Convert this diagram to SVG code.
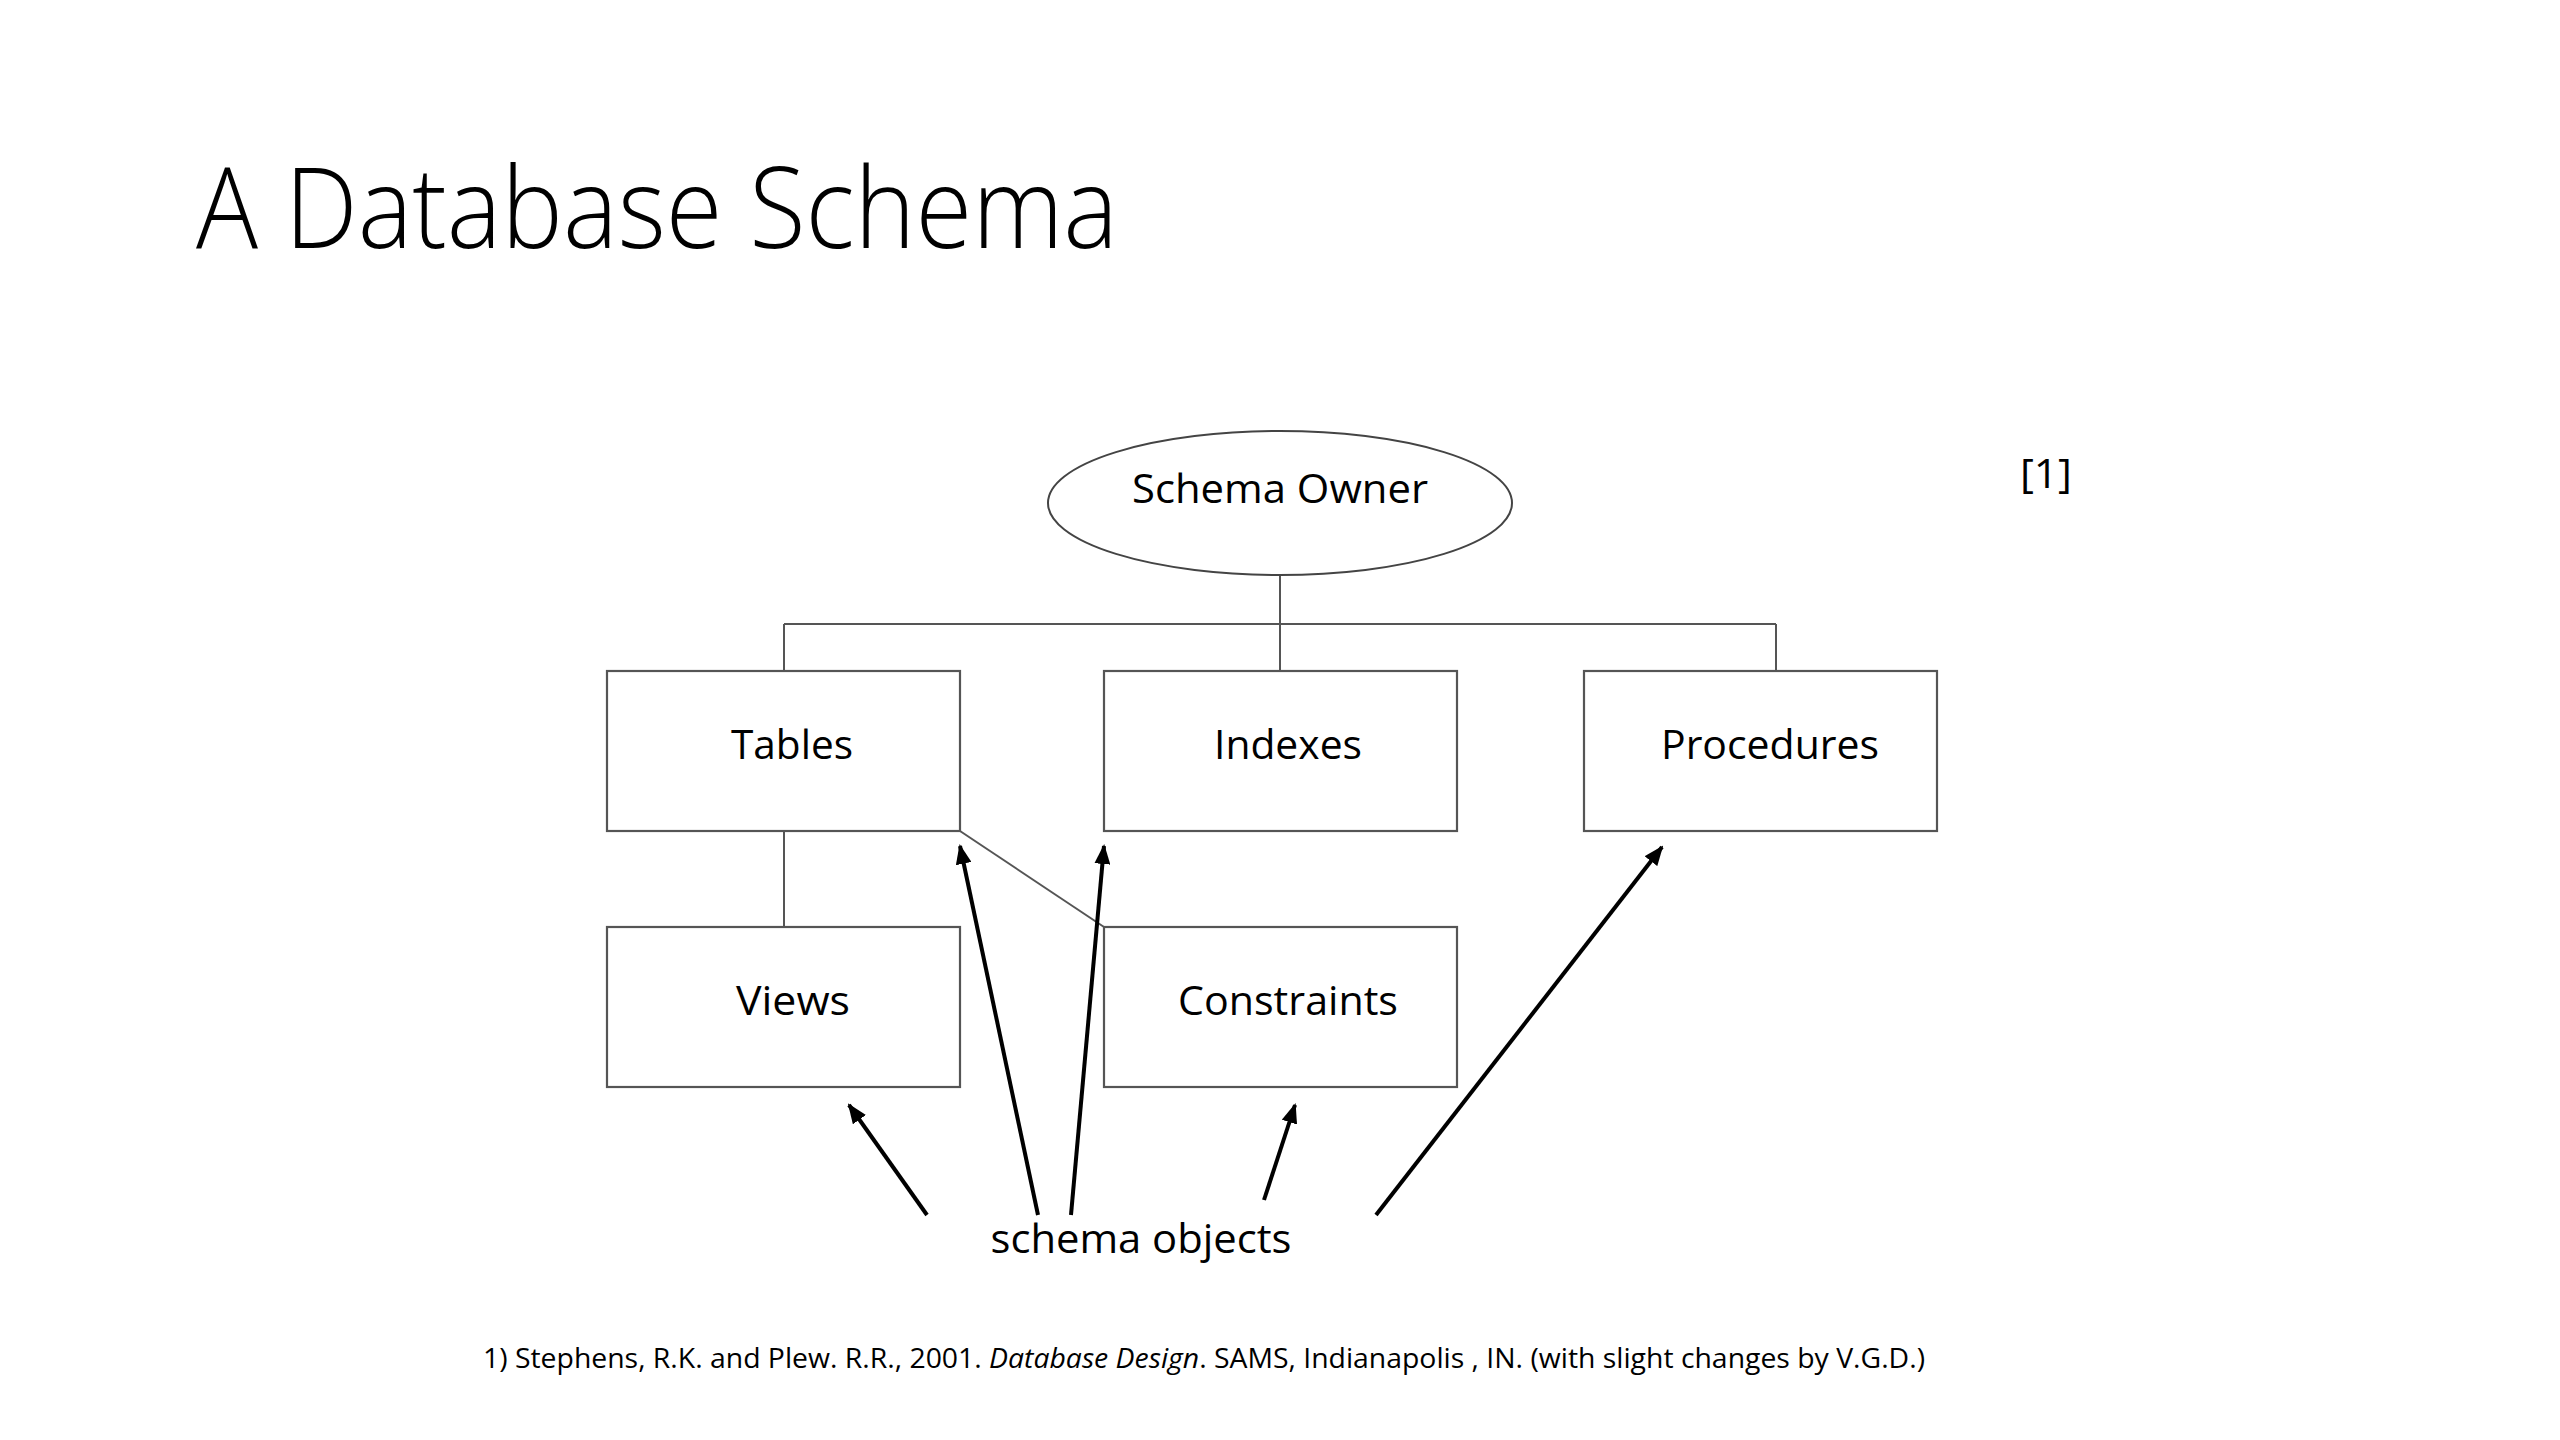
<svg xmlns="http://www.w3.org/2000/svg" width="2560" height="1440" viewBox="0 0 2560 1440">
<style>
.t{font-family:"Open Sans","Liberation Sans",sans-serif;fill:#000}
.box{fill:#fff;stroke:#555;stroke-width:2.2}
.ln{stroke:#555;stroke-width:2;fill:none}
.ar{stroke:#000;stroke-width:4;fill:none;marker-end:url(#ah)}
.lbl{font-size:40px;text-anchor:middle}
</style>
<defs>
<marker id="ah" markerUnits="userSpaceOnUse" markerWidth="20" markerHeight="16" viewBox="0 0 20 16" refX="18" refY="8" orient="auto">
<path d="M0,0 L20,8 L0,16 z" fill="#000"/>
</marker>
</defs>
<rect width="2560" height="1440" fill="#fff"/>
<text class="t" x="196" y="248" font-size="112" font-weight="300" textLength="922" lengthAdjust="spacingAndGlyphs">A Database Schema</text>
<text class="t" x="2020" y="488" font-size="40" textLength="52" lengthAdjust="spacingAndGlyphs">[1]</text>
<g id="connectors">
<line class="ln" x1="1280" y1="575" x2="1280" y2="671"/>
<line class="ln" x1="784" y1="624" x2="1776" y2="624"/>
<line class="ln" x1="784" y1="624" x2="784" y2="671"/>
<line class="ln" x1="1776" y1="624" x2="1776" y2="671"/>
<line class="ln" x1="784" y1="831" x2="784" y2="927"/>
<line class="ln" x1="960" y1="831" x2="1104" y2="927"/>
<line class="ar" x1="927" y1="1215" x2="849" y2="1105"/>
<line class="ar" x1="1038" y1="1215" x2="960" y2="846"/>
<line class="ar" x1="1071" y1="1215" x2="1104" y2="846"/>
<line class="ar" x1="1264" y1="1200" x2="1295" y2="1105"/>
<line class="ar" x1="1376" y1="1215" x2="1662" y2="847"/>
</g>
<g id="schema-owner">
<ellipse cx="1280" cy="503" rx="232" ry="72" fill="#fff" stroke="#444" stroke-width="2"/>
<text class="t lbl" x="1280" y="503" textLength="296" lengthAdjust="spacingAndGlyphs">Schema Owner</text>
</g>
<g id="tables">
<rect class="box" x="607" y="671" width="353" height="160"/>
<text class="t lbl" x="792" y="759" textLength="122" lengthAdjust="spacingAndGlyphs">Tables</text>
</g>
<g id="indexes">
<rect class="box" x="1104" y="671" width="353" height="160"/>
<text class="t lbl" x="1288" y="759" textLength="148" lengthAdjust="spacingAndGlyphs">Indexes</text>
</g>
<g id="procedures">
<rect class="box" x="1584" y="671" width="353" height="160"/>
<text class="t lbl" x="1770" y="759" textLength="218" lengthAdjust="spacingAndGlyphs">Procedures</text>
</g>
<g id="views">
<rect class="box" x="607" y="927" width="353" height="160"/>
<text class="t lbl" x="793" y="1015" textLength="114" lengthAdjust="spacingAndGlyphs">Views</text>
</g>
<g id="constraints">
<rect class="box" x="1104" y="927" width="353" height="160"/>
<text class="t lbl" x="1288" y="1015" textLength="220" lengthAdjust="spacingAndGlyphs">Constraints</text>
</g>
<g id="schema-objects">
<text class="t lbl" x="1141" y="1253" textLength="301" lengthAdjust="spacingAndGlyphs">schema objects</text>
</g>
<text class="t" x="483" y="1368" font-size="27" textLength="1442" lengthAdjust="spacingAndGlyphs">1) Stephens, R.K. and Plew. R.R., 2001. <tspan font-style="italic">Database Design</tspan>. SAMS, Indianapolis , IN. (with slight changes by V.G.D.)</text>
</svg>
